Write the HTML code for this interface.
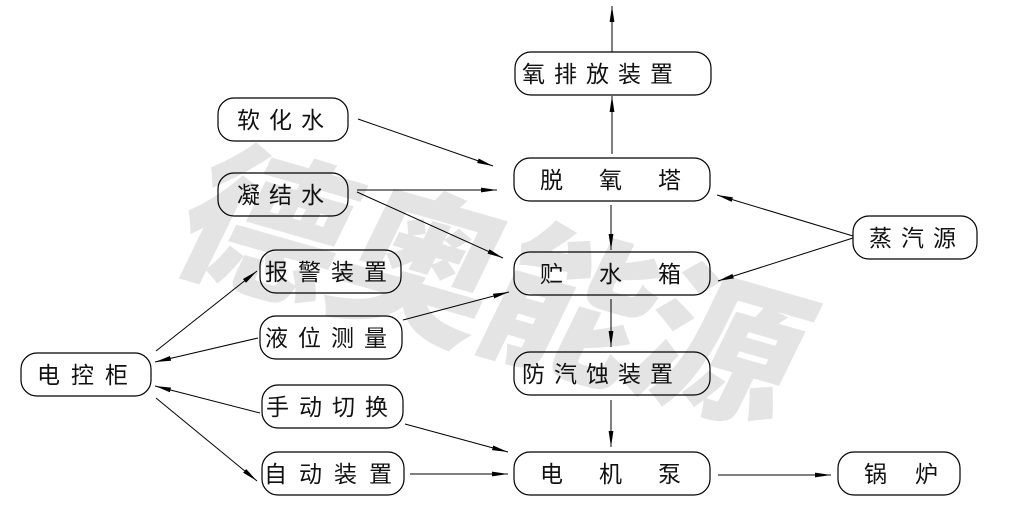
<!DOCTYPE html>
<html><head><meta charset="utf-8"><style>
html,body{margin:0;padding:0;background:#fff;}
svg{display:block;}
text{font-family:"Liberation Sans","Noto Sans CJK SC",sans-serif;font-size:23px;fill:#111;}
.wm{font-family:"Noto Sans CJK SC","WenQuanYi Zen Hei",sans-serif;font-weight:900;font-size:160px;fill:#e4e4e4;}
</style></head><body>
<svg width="1030" height="531" viewBox="0 0 1030 531" xmlns="http://www.w3.org/2000/svg">
<defs>
<marker id="a" viewBox="0 0 16 6" refX="16" refY="3" markerWidth="16" markerHeight="6" markerUnits="userSpaceOnUse" orient="auto">
<path d="M0,0.6 L16,3 L0,5.4 Z" fill="#000"/>
</marker>
</defs>
<g transform="translate(240,280) rotate(16) skewX(-10)"><text class="wm" x="-80" y="0">德</text></g>
<g transform="translate(395,320) rotate(16) skewX(-10)"><text class="wm" x="-80" y="0">奥</text></g>
<g transform="translate(545,360) rotate(16) skewX(-10)"><text class="wm" x="-80" y="0">能</text></g>
<g transform="translate(695,400) rotate(16) skewX(-10)"><text class="wm" x="-80" y="0">源</text></g>
<g fill="none" stroke="#000" stroke-width="1.2">
<rect x="515" y="52" width="196" height="43" rx="16"/>
<rect x="514" y="158" width="196" height="43" rx="16"/>
<rect x="514" y="252" width="196" height="43" rx="16"/>
<rect x="514" y="352" width="196" height="43" rx="16"/>
<rect x="514" y="452" width="196" height="43" rx="16"/>
<rect x="838" y="452" width="122" height="43" rx="16"/>
<rect x="853" y="216" width="124" height="43" rx="16"/>
<rect x="218" y="98" width="130" height="43" rx="16"/>
<rect x="218" y="173" width="130" height="43" rx="16"/>
<rect x="260" y="250" width="141" height="43" rx="16"/>
<rect x="260" y="316" width="142" height="43" rx="16"/>
<rect x="262" y="385" width="141" height="43" rx="16"/>
<rect x="262" y="452" width="142" height="43" rx="16"/>
<rect x="21" y="353" width="130" height="43" rx="16"/>
</g>
<g stroke="#000" stroke-width="1" marker-end="url(#a)">
<line x1="612" y1="52" x2="612" y2="6"/>
<line x1="612" y1="154" x2="612" y2="96"/>
<line x1="611" y1="205" x2="611" y2="250"/>
<line x1="611" y1="299" x2="611" y2="347"/>
<line x1="611" y1="400" x2="611" y2="447"/>
<line x1="718" y1="475" x2="831" y2="475"/>
<line x1="410" y1="474" x2="508" y2="474"/>
<line x1="405" y1="424" x2="508" y2="452"/>
<line x1="358" y1="119" x2="493" y2="166"/>
<line x1="357" y1="190" x2="497" y2="190"/>
<line x1="357" y1="192" x2="503" y2="258"/>
<line x1="853" y1="236" x2="717" y2="195"/>
<line x1="853" y1="238" x2="718" y2="281"/>
<line x1="403" y1="320" x2="509" y2="292"/>
<line x1="156" y1="351" x2="257" y2="271"/>
<line x1="258" y1="338" x2="155" y2="362"/>
<line x1="260" y1="413" x2="155" y2="386"/>
<line x1="156" y1="398" x2="257" y2="481"/>
</g>
<g>
<text x="522" y="82" letter-spacing="9">氧排放装置</text>
<text x="540" y="188" letter-spacing="36">脱氧塔</text>
<text x="540" y="282" letter-spacing="36">贮水箱</text>
<text x="522" y="382" letter-spacing="9">防汽蚀装置</text>
<text x="540" y="482" letter-spacing="36">电机泵</text>
<text x="864" y="482" letter-spacing="28">锅炉</text>
<text x="869" y="246" letter-spacing="9">蒸汽源</text>
<text x="237" y="128" letter-spacing="9">软化水</text>
<text x="237" y="203" letter-spacing="9">凝结水</text>
<text x="265" y="280" letter-spacing="10">报警装置</text>
<text x="265" y="346" letter-spacing="10">液位测量</text>
<text x="266" y="415" letter-spacing="10">手动切换</text>
<text x="264" y="482" letter-spacing="12">自动装置</text>
<text x="37" y="383" letter-spacing="11">电控柜</text>
</g>
</svg>
</body></html>
